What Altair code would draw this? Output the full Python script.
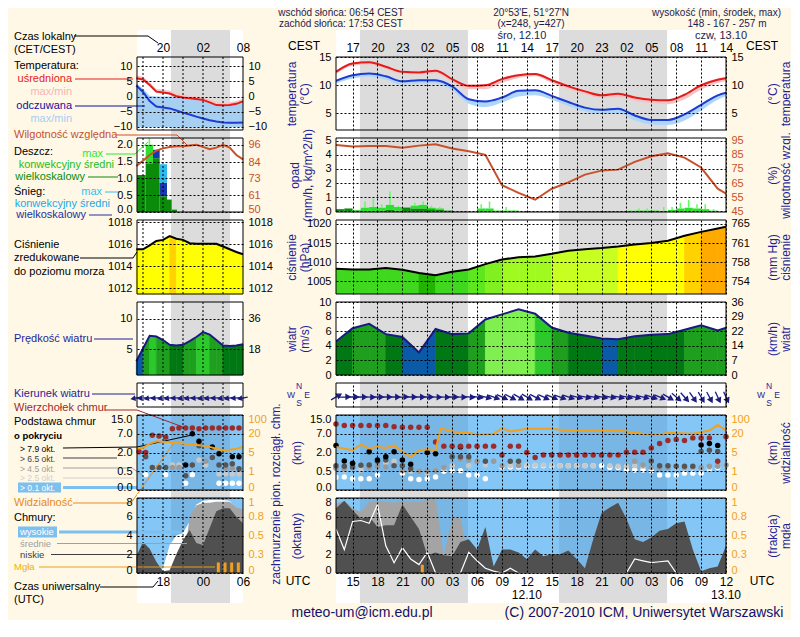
import altair as alt
import pandas as pd

FONT = "Liberation Sans"
NAVY = "#1f1f96"
INK = "#1c1c50"
RED = "#e41c1c"
BLUE = "#1e3cd2"
HUM = "#c8502a"
ORANGE = "#f0a020"
CREAM = "#fff8e6"
NIGHT = "#dcdcdc"
SKY = "#84c6f6"
SKY_N = "#78b6e6"
ARROW_C = "#1c1c80"

# ======================= DATA =======================
# time = hours UTC counted from 11.10 00:00 (13 -> 11.10 13:00 UTC)
T2 = list(range(13, 62, 2))      # 2-hourly main grid
TH = list(range(13, 61))         # hourly main grid
TR = list(range(13, 60))         # hourly precipitation bins
MT = list(range(14, 31))         # hourly grid of the legend mini panels
GRID_R = list(range(15, 61, 3))
GRID_L = [15, 18, 21, 24, 27]
MINI_LAB = [18, 24, 30]
NIGHT_S = [15.88, 39.88]
NIGHT_E = [28.9, 52.9]
MINI_NIGHT_S = [19.2]
MINI_NIGHT_E = [28.05]
DAY_T = [35.4, 59.4]
DAY_TXT = ["śro, 12.10", "czw, 13.10"]
DATE_T = [36, 60]
DATE_TXT = ["12.10", "13.10"]

temp_avg = [12.4, 13.9, 14.1, 13.3, 12.4, 12.3, 12.6, 11.1, 9.9, 10.0, 11.1, 11.8, 12.0,
            10.9, 9.8, 8.9, 8.2, 8.5, 7.8, 7.4, 7.3, 8.3, 10.0, 11.0, 11.4]
temp_avg_lo = [12.0, 13.5, 13.7, 12.9, 12.0, 11.9, 12.1, 10.6, 9.3, 9.3, 10.4, 11.3, 11.6,
               10.4, 9.3, 8.4, 7.7, 7.9, 7.2, 6.8, 6.6, 7.5, 9.2, 10.4, 11.0]
temp_avg_hi = [12.6, 14.1, 14.3, 13.5, 12.6, 12.5, 12.8, 11.3, 10.1, 10.2, 11.3, 12.0, 12.2,
               11.1, 10.0, 9.1, 8.4, 8.7, 8.0, 7.6, 7.5, 8.5, 10.2, 11.2, 11.6]
temp_felt = [10.8, 11.8, 12.1, 11.6, 10.7, 10.9, 10.9, 9.8, 7.5, 7.1, 7.8, 9.0, 9.1,
             8.1, 7.0, 6.0, 5.6, 5.8, 4.6, 3.8, 3.8, 4.8, 6.5, 8.2, 9.0]
temp_felt_lo = [10.3, 11.2, 11.5, 11.0, 10.1, 10.3, 10.3, 9.1, 6.7, 6.1, 6.9, 8.0, 8.2,
                7.4, 6.3, 5.3, 4.9, 5.0, 3.7, 3.0, 2.9, 3.7, 5.5, 7.4, 8.5]
temp_felt_hi = [10.9, 11.9, 12.2, 11.7, 10.8, 11.0, 11.0, 9.9, 7.6, 7.2, 7.9, 9.1, 9.2,
                8.2, 7.1, 6.1, 5.7, 5.9, 4.7, 3.9, 3.9, 4.9, 6.6, 8.3, 9.1]
humidity = [92, 90.8, 91.2, 91.3, 90, 91.5, 92.4, 89.5, 87.5, 85, 63.5, 58, 53.2,
            61, 65.5, 71, 73.8, 74.5, 80, 84, 86, 83, 76, 61, 54]
pressure = [1008.3, 1008.1, 1008.1, 1008.5, 1008.0, 1007.2, 1006.6, 1007.5, 1008.1, 1009.5,
            1010.7, 1011.3, 1011.5, 1012.2, 1013.0, 1013.4, 1013.7, 1014.1, 1014.6, 1015.0,
            1015.6, 1016.9, 1017.9, 1018.8, 1019.7]
wind = [4.6, 6.4, 7.0, 5.6, 5.2, 3.1, 6.3, 5.6, 5.7, 7.6, 8.3, 9.0, 8.4,
        6.5, 5.8, 5.4, 5.0, 4.9, 5.3, 5.5, 5.6, 6.2, 6.8, 6.1, 6.8]

rain_large = [0.15, 0.2, 0.05, 0, 0, 0.05, 0.1, 0.05, 0.25, 0.2, 0.2, 0.15, 0.1, 0.05,
              0, 0, 0, 0, 0, 0, 0, 0, 0, 0, 0, 0, 0, 0, 0, 0, 0, 0, 0, 0, 0, 0, 0,
              0, 0, 0, 0, 0, 0, 0, 0, 0, 0]
rain_conv = [0, 0, 0.05, 0.25, 0.3, 0.2, 0.35, 0.25, 0.05, 0.2, 0.25, 0.1, 0.1, 0,
             0, 0, 0, 0.2, 0.2, 0.05, 0.05, 0.05,
             0, 0, 0, 0, 0, 0, 0, 0, 0, 0, 0, 0, 0,
             0.03, 0.05, 0.05, 0.05, 0.02, 0.1, 0.2, 0.25, 0.2, 0.15, 0.05, 0]
rain_max = [0, 0, 0.1, 0.7, 0.9, 0.5, 1.4, 0.4, 0.3, 0.6, 0.7, 0.4, 0.3, 0.1,
            0, 0, 0, 0.5, 0.7, 0.1, 0.3, 0.1,
            0, 0, 0, 0, 0, 0, 0, 0, 0, 0, 0, 0, 0,
            0.1, 0.2, 0.2, 0.1, 0.3, 0.3, 0.6, 0.8, 0.5, 0.5, 0.15, 0]

wind_dir = [240, 268, 270, 270, 272, 270, 270, 270, 268, 270, 270, 270, 272, 272, 270, 272, 275, 278,
            285, 290, 295, 298, 300, 300, 298, 295, 292, 290, 288, 285, 282, 280,
            280, 280, 282, 282, 285, 285, 288, 292,
            300, 310, 318, 325, 330, 332, 335, 335]

vis_t = [13, 15, 16, 17, 18, 19, 20, 21, 22, 23, 24, 25, 25.6, 27, 29, 30, 32, 33, 34, 36,
         39, 41, 47, 50, 52, 53, 56, 58, 59, 60]
vis_v = [9.5, 6.8, 11.3, 8.2, 9.5, 8.7, 10.8, 5.5, 4.1, 6.8, 7.6, 6.8, 43.9, 29.8, 24.2, 19.2,
         20, 43.9, 29.8, 41, 41, 34, 34, 20, 19.2, 24.2, 20, 34, 58, 34]

base_top = {13: 11.2, 14: 10.5, 15: 10.5, 16: 10.5, 17: 10.5, 18: 10.5, 19: 10.5, 20: 10.0,
            21: 9.8, 22: 9.8, 23: 9.8, 24: 9.8, 25: 4.8, 26: 3.7, 27: 3.7, 28: 3.7, 29: 3.7,
            30: 3.7, 31: 3.7, 32: 3.7, 33: 1.8, 34: 3.7, 35: 3.7, 36: 2.0, 37: 1.6, 38: 1.8,
            39: 1.8, 40: 1.8, 41: 1.8, 42: 1.8, 43: 1.8, 44: 1.8, 45: 1.8, 46: 1.8, 47: 1.8,
            48: 2.1, 49: 2.1, 50: 2.1, 51: 3.2, 52: 4.4, 53: 5.2, 54: 5.5, 55: 5.2, 56: 5.9,
            57: 5.9, 58: 5.9, 59: 1.3, 60: 6.2}
base_black = {13: 3.9, 14: 1.33, 15: 1.15, 17: 2.2, 18: 1.4, 19: 1.66, 20: 2.2, 21: 1.4,
              22: 1.07, 24: 2.0, 25: 1.9, 28: 3.5, 57: 4.0, 58: 4.4, 59: 3.9}
base_dgray = {13: 0.94, 14: 0.9, 15: 0.85, 16: 0.98, 17: 1.0, 18: 1.3, 19: 1.4, 20: 0.95,
              21: 0.94, 22: 0.71, 27: 1.66, 28: 1.66, 29: 1.66, 31: 1.3, 34: 1.3, 35: 1.3,
              51: 1.33, 52: 0.94, 53: 0.94, 54: 0.9, 55: 0.9, 56: 0.9, 57: 2.3, 58: 2.6, 59: 2.3}
base_gray = {13: 0.75, 14: 0.7, 15: 0.8, 17: 0.8, 18: 0.9, 19: 0.85, 21: 0.55, 23: 0.5,
             24: 0.5, 25: 0.55, 26: 0.8, 28: 1.5, 29: 1.4, 30: 1.3, 32: 1.3, 33: 0.95, 35: 0.95,
             49: 1.3, 50: 1.0, 51: 0.8, 52: 0.75, 53: 0.8, 55: 0.8, 56: 0.85, 57: 0.8, 58: 0.9,
             59: 0.9, 60: 1.0}
base_lgray = {14: 0.6, 16: 0.6, 19: 1.2, 20: 1.3, 22: 0.5, 24: 0.45, 26: 0.7, 27: 0.95,
              29: 0.95, 31: 1.0, 33: 0.95, 34: 0.95, 35: 1.0, 36: 1.0, 37: 1.0, 38: 1.0,
              39: 1.0, 40: 0.95, 41: 0.95, 42: 0.95, 43: 0.95, 44: 0.95, 46: 0.95, 47: 0.9,
              48: 0.9, 49: 0.95, 50: 0.9, 54: 0.8, 55: 0.75, 56: 0.8, 58: 0.8, 59: 0.9}
base_white = {13: 0.34, 14: 0.35, 15: 0.3, 16: 0.3, 17: 0.3, 18: 0.4, 21: 0.45, 22: 0.3,
              23: 0.28, 24: 0.3, 25: 0.35, 26: 0.5, 27: 0.55, 28: 0.55, 29: 0.4, 30: 0.4,
              31: 0.3, 33: 0.85, 34: 0.85, 35: 0.85, 36: 0.95, 37: 0.95, 38: 0.95, 39: 0.95,
              40: 0.95, 41: 0.95, 42: 0.95, 43: 0.95, 44: 0.95, 45: 0.95, 46: 0.8, 47: 0.8,
              48: 0.6, 49: 0.6, 50: 0.6, 51: 0.55, 52: 0.4, 53: 0.4, 54: 0.4, 55: 0.45,
              56: 0.45, 57: 0.45, 58: 0.7, 59: 0.8, 60: 1.0}

cloud_low = [6.9, 7.7, 6.7, 5.8, 6.0, 4.9, 5.1, 5.1, 7.3, 6.0, 4.7, 1.9, 2.2, 1.9, 1.8, 3.3,
             3.6, 2.5, 4.9, 0.7, 2.5, 2.5, 2.2, 1.5, 2.5, 1.8, 2.0, 2.0, 2.4, 1.5, 0.5, 3.6,
             6.4, 7.0, 7.5, 5.8, 3.6, 3.3, 3.8, 4.5, 4.7, 5.3, 5.5, 2.5, 0.2, 0.5, 0.7, 2.9]
cloud_mid = [7.4, 7.7, 6.9, 6.5, 7.6, 7.7, 7.6, 7.5, 7.7, 7.6, 7.6, 7.8, 8.0, 1.8, 5.9, 5.9,
             1.5, 0, 0, 0, 0, 0, 0, 0, 0, 0, 0, 0, 0, 0, 0, 0,
             0, 0, 0, 0, 0, 0, 0, 0, 0, 0, 0, 0, 0, 0, 0, 0]
cloud_high = [4.7, 2.5, 5.5, 5.6, 5.3, 7.3, 2.9, 1.1, 2.7, 1.5, 0.9, 2.2, 0, 0, 0, 0,
              2.2, 1.3, 0.5, 0.2, 0, 0.5, 0, 0, 0, 0, 0, 0, 0, 0, 0, 0,
              0, 0, 0, 0, 1.5, 1.3, 1.1, 1.2, 1.3, 0, 0, 0, 0, 0, 0, 0]
fog_t = [23.4]
fog_v = [0.11]

# ---- legend mini panels (example data) ----
mini_temp = [6.0, 5.6, 3.8, 1.6, 1.3, 1.0, 0.1, -0.3, -0.6, -0.8, -1.1, -1.9, -2.8, -2.9, -2.8, -2.4, -1.6]
mini_temp_lo = [5.7, 5.3, 3.5, 1.3, 1.0, 0.7, -0.2, -0.6, -0.9, -1.1, -1.4, -2.2, -3.1, -3.2, -3.1, -2.7, -1.9]
mini_temp_hi = [6.9, 6.5, 4.7, 2.5, 2.2, 1.9, 1.0, 0.6, 0.3, 0.1, -0.2, -1.0, -1.9, -2.0, -1.9, -1.5, -0.7]
mini_felt = [3.6, 1.5, -1.5, -3.3, -3.6, -3.9, -4.6, -5.3, -5.9, -6.6, -7.2, -7.8, -8.2, -8.5, -8.6, -8.6, -8.5]
mini_felt_hi = [4.4, 2.6, 0.3, 0.0, 0.0, 0.0, 0.0, 0.0, -0.2, -0.5, -0.8, -1.5, -2.5, -2.8, -2.8, -2.3, -1.5]
mini_felt_lo = [-10, -10, -10, -10, -10, -10, -10, -10, -10, -10, -10, -10, -10, -10, -10, -10, -10]
mini_hum = [81.5, 85, 89, 92, 93.5, 94.5, 95, 95, 95.5, 96, 94.5, 93, 94, 96, 94, 89, 86]
mini_bar_t0 = [14.1, 15.4, 16.5, 17.5, 18.6, 19.3]
mini_bar_t1 = [15.4, 16.5, 17.5, 18.6, 19.3, 20.1]
mini_rain_large = [1.1, 1.45, 1.6, 0.47, 0.37, 0.07]
mini_rain_conv = [0, 0.55, 0, 0, 0, 0]
mini_snow_large = [0, 0, 0.25, 0.4, 0, 0]
mini_snow_conv = [0, 0, 0, 0.55, 0, 0]
mini_rain_max = [0, 2.2, 0, 0, 0, 0]
mini_press = [1015.55, 1015.55, 1015.9, 1016.3, 1016.4, 1016.75, 1016.5, 1016.4, 1016.1, 1016.05,
              1016.05, 1016.05, 1016.05, 1015.8, 1015.55, 1015.3, 1015.1]
mini_wind = [3.0, 5.1, 7.2, 7.1, 6.5, 5.7, 5.6, 5.7, 6.3, 7.0, 7.8, 7.4, 6.5, 5.6, 5.5, 5.6, 5.8]
mini_dir = [80, 85, 80, 85, 80, 80, 85, 80, 80, 85, 80, 80, 85, 80, 80, 85, 80]
mini_vis = [8.0, 8.7, 12, 14, 13.6, 13.4, 12.8, 12.2, 11.5, 11, 10.5, 9.5, 8.0, 6.8, 7.2, 8.0, 9.5]
mb_top = {14.4: 2.2, 15.4: 2.0, 16.4: 6.6, 17.4: 6.4, 18.4: 6.1, 19.4: 9.1, 20.4: 9.5, 21.4: 9.5,
          22.4: 9.5, 23.4: 9.1, 24.4: 9.5, 25.4: 9.5, 26.4: 9.5, 27.4: 9.5, 28.4: 9.5, 29.4: 9.5}
mb_black = {21.4: 1.0, 22.4: 7.0, 23.4: 5.0, 25.4: 3.5, 26.4: 1.9, 28.4: 1.66, 29.4: 1.66}
mb_dgray = {15.4: 1.66, 16.4: 0.81, 17.4: 0.81, 18.4: 0.81, 21.4: 0.38, 22.4: 1.0, 23.4: 3.8,
            25.4: 1.6, 26.4: 1.0, 27.4: 1.0, 28.4: 1.1, 29.4: 0.7}
mb_gray = {19.4: 0.81, 20.4: 0.81, 24.4: 1.3, 27.4: 0.75, 28.4: 0.75}
mb_lgray = {19.4: 1.0, 20.4: 1.0, 23.4: 1.4, 24.4: 1.0, 26.4: 0.43, 27.4: 0.43, 28.4: 0.43, 29.4: 0.43}
mb_white = {15.4: 0.41, 18.4: 0.41, 21.4: 0.18, 22.4: 0.41, 26.4: 0.18, 27.4: 0.18, 28.4: 0.18, 29.4: 0.18}
mini_low = [1.8, 3.3, 2.6, 1.2, 0.2, 0.3, 2.0, 3.5, 4.6, 3.2, 3.0, 4.8, 6.6, 6.9, 6.9, 6.0, 5.3]
mini_mid = [0, 0, 0, 0, 0, 0, 1.0, 0.5, 6.0, 7.2, 7.5, 7.5, 7.6, 7.6, 7.6, 7.0, 6.8]
mini_high = [0, 0, 0, 0, 0.5, 3.0, 4.0, 4.3, 5.5, 7.3, 7.7, 7.8, 7.8, 7.8, 7.7, 6.8, 6.2]
mini_fog_t = [26.3, 27.3, 28.3, 29.3]
mini_fog = [0.14, 0.14, 0.14, 0.14]

# ======================= LAYOUT =======================
W, WL = 390, 106
HT, HR, HP, HW, HD, HB, HC = 73, 74, 74, 73, 24, 75, 75
XR = alt.Scale(domain=[13, 60], nice=False, zero=False)
XL = alt.Scale(domain=[14.1, 30], nice=False, zero=False)
EXPR_UTC = "(datum.value % 24 < 10 ? '0' : '') + (datum.value % 24)"
EXPR_LOC = "((datum.value + 2) % 24 < 10 ? '0' : '') + ((datum.value + 2) % 24)"
ONE = pd.DataFrame({"k": [0]})
ARROW = "M-1,0L0.4,0M1,0L0.3,-0.4L0.3,0.4Z"

P_TH = alt.Scale(type="threshold",
                 domain=[1007.0, 1008.6, 1009.6, 1010.8, 1012.0, 1014.3, 1016.6, 1018.2],
                 range=["#22b400", "#40d81e", "#5ee61e", "#80f020", "#a0fa20", "#c8ff20",
                        "#ffff00", "#ffd200", "#ffaa00"])
W_TH = alt.Scale(type="threshold", domain=[3.6, 5.0, 6.0, 7.0, 7.8],
                 range=["#0a96ff", "#0a5aa8", "#007814", "#1ea01e", "#2cc82c", "#80f050"])
RAIN_SC = alt.Scale(domain=["rl", "rc", "sl", "sc"], range=["#0a8c0a", "#2ee02e", "#1838b0", "#30b8f0"])
DOT_SC = alt.Scale(domain=["white", "lgray", "gray", "dgray", "black", "top"],
                   range=["#ffffff", "#c8c8c8", "#9a9a9a", "#555555", "#000000", "#9b2c2c"])


def xax(vals, orient="bottom", labels=False, expr=None):
    kw = dict(values=vals, orient=orient, grid=True, gridDash=[2, 2], gridColor="black",
              gridOpacity=1, gridWidth=1, ticks=False, domain=False, title=None, zindex=1,
              labels=labels, labelFont=FONT, labelFontSize=12, labelColor="black",
              labelPadding=3, labelFlush=False, labelOverlap=False)
    if expr:
        kw["labelExpr"] = expr
    return alt.Axis(**kw)


def lab_ax(orient, expr):
    return alt.Axis(values=MINI_LAB, orient=orient, grid=False, ticks=False, domain=False, title=None,
                    zindex=1, labelFont=FONT, labelFontSize=12, labelColor="black", labelPadding=3,
                    labelFlush=False, labelOverlap=False, labelExpr=expr)


def yax(vals, H, orient="left", grid=True, color="black", title=None, tx=0, fmt=None, expr=None,
        flush=False):
    kw = dict(values=vals, orient=orient, grid=grid, ticks=False, domain=False, zindex=1,
              labelFont=FONT, labelFontSize=11, labelColor=color, labelPadding=5,
              labelOverlap=False, labelFlush=flush)
    if flush:
        kw["labelFlushOffset"] = 2
    if grid:
        kw.update(gridDash=[2, 2], gridColor="black", gridOpacity=1, gridWidth=1)
    if fmt:
        kw["format"] = fmt
    if expr:
        kw["labelExpr"] = expr
    if title is None:
        kw["title"] = None
    else:
        kw.update(title=title, titleFont=FONT, titleFontSize=12, titleFontWeight="normal",
                  titleColor=NAVY, titleAngle=270, titleX=tx, titleY=H / 2,
                  titleAlign="center", titleBaseline="middle", titleLineHeight=13)
    return alt.Axis(**kw)


def txt(s, x, y, color="black", size=11, align="left", weight="normal", angle=0):
    m = dict(text=s, align=align, baseline="middle", font=FONT, fontSize=size, color=color,
             fontWeight=weight)
    if angle:
        m["angle"] = angle
    return alt.Chart(ONE).mark_text(**m).encode(x=alt.value(x), y=alt.value(y))


def seg(x1, y1, x2, y2, color, w=1):
    return alt.Chart(ONE).mark_rule(color=color, strokeWidth=w).encode(
        x=alt.value(x1), y=alt.value(y1), x2=alt.value(x2), y2=alt.value(y2))


def poly(pts, color, w=1):
    return [seg(pts[i][0], pts[i][1], pts[i + 1][0], pts[i + 1][1], color, w) for i in range(len(pts) - 1)]


def box(x1, y1, x2, y2, color, opacity=1):
    return alt.Chart(ONE).mark_rect(color=color, opacity=opacity).encode(
        x=alt.value(x1), x2=alt.value(x2), y=alt.value(y1), y2=alt.value(y2))


def frame(w, h):
    return alt.Chart(ONE).mark_rect(filled=False, stroke="black", strokeWidth=1).encode(
        x=alt.value(0), x2=alt.value(w), y=alt.value(0), y2=alt.value(h))


def bands(xs, dom, ax, ns, ne, H, top, bot, day, night):
    full = pd.DataFrame({"s": [dom[0]], "e": [dom[1]]})
    nts = pd.DataFrame({"s": ns, "e": ne})
    a = alt.Chart(full).mark_rect(color=day).encode(
        x=alt.X("s:Q", scale=xs, axis=ax), x2="e:Q", y=alt.value(top), y2=alt.value(H + bot))
    b = alt.Chart(nts).mark_rect(color=night).encode(
        x=alt.X("s:Q", scale=xs, axis=ax), x2="e:Q", y=alt.value(top), y2=alt.value(H + bot))
    return [a, b]


def seg_df(ts, vs):
    rows = []
    for i in range(len(ts) - 1):
        m = (vs[i] + vs[i + 1]) / 2
        rows.append(dict(seg=i, t=ts[i], v=vs[i], m=m))
        rows.append(dict(seg=i, t=ts[i + 1], v=vs[i + 1], m=m))
    return pd.DataFrame(rows)


def dots_df(groups):
    rows = []
    for cat, d in groups:
        for t, v in d.items():
            rows.append(dict(t=t, v=v, cat=cat))
    return pd.DataFrame(rows)


def stack_df(t0, t1, parts):
    rows = []
    for i in range(len(t0)):
        base = 0.0
        for cat, arr in parts:
            rows.append(dict(t0=t0[i], t1=t1[i], v0=base, v1=base + arr[i], cat=cat))
            base += arr[i]
    return pd.DataFrame(rows)


def panel(left, right, w, h):
    if right:
        ch = alt.layer(alt.layer(*left), alt.layer(*right)).resolve_scale(y="independent")
    else:
        ch = alt.layer(*left)
    return ch.properties(width=w, height=h)


# ======================= RIGHT (main) COLUMN =======================
RD = [13, 60]
XA = xax(GRID_R)
XA_T = xax(GRID_R, "top", True, EXPR_LOC)
XA_C = xax(GRID_R, "bottom", True, EXPR_UTC)

# --- temperature ---
dfT = pd.DataFrame(dict(t=T2, avg=temp_avg, alo=temp_avg_lo, ahi=temp_avg_hi,
                        felt=temp_felt, flo=temp_felt_lo, fhi=temp_felt_hi))
yT = alt.Scale(domain=[2, 15.05], nice=False, zero=False)
yaT = yax([5, 10, 15], HT, title=["temperatura", "(°C)"], tx=-45)
yaT_r = yax([5, 10, 15], HT, orient="right", grid=False, title=["(°C)", "temperatura"], tx=46)
xT = alt.X("t:Q", scale=XR, axis=XA_T)
T_left = bands(XR, RD, XA_T, NIGHT_S, NIGHT_E, HT, -27, 4, "white", NIGHT) + [
    alt.Chart(dfT).mark_area(color="#aed6fa", clip=True, interpolate="monotone").encode(
        x=xT, y=alt.Y("flo:Q", scale=yT, axis=yaT), y2="fhi:Q"),
    alt.Chart(dfT).mark_area(color="#f7c4c4", clip=True, interpolate="monotone").encode(
        x=xT, y=alt.Y("alo:Q", scale=yT, axis=yaT), y2="ahi:Q"),
    alt.Chart(dfT).mark_line(color=BLUE, strokeWidth=2, clip=True, interpolate="monotone").encode(
        x=xT, y=alt.Y("felt:Q", scale=yT, axis=yaT)),
    alt.Chart(dfT).mark_line(color=RED, strokeWidth=2, clip=True, interpolate="monotone").encode(
        x=xT, y=alt.Y("avg:Q", scale=yT, axis=yaT)),
    alt.Chart(pd.DataFrame({"t": DAY_T, "s": DAY_TXT})).mark_text(
        font=FONT, fontSize=11, color=INK).encode(x=xT, y=alt.value(-21), text="s:N"),
    txt("wschód słońca: 06:54 CEST", 5, -44, INK, 10, "center"),
    txt("zachód słońca: 17:53 CEST", 5, -33, INK, 10, "center"),
    txt("20°53'E, 51°27'N", 195, -44, INK, 10, "center"),
    txt("(x=248, y=427)", 195, -33, INK, 10, "center"),
    txt("wysokość (min, środek, max)", 445, -44, INK, 10, "right"),
    txt("148 - 167 - 257 m", 391, -33, INK, 10, "center"),
    txt("CEST", -32, -11, "black", 12, "center"),
    txt("CEST", W + 36, -11, "black", 12, "center"),
]
T_right = [
    alt.Chart(dfT).mark_line(opacity=0).encode(x=xT, y=alt.Y("avg:Q", scale=yT, axis=yaT_r)),
    frame(W, HT),
]
pT = panel(T_left, T_right, W, HT)

# --- precipitation / humidity ---
xR = alt.X("t:Q", scale=XR, axis=XA)
yR = alt.Scale(domain=[-0.05, 5.19], nice=False, zero=False)
yH = alt.Scale(domain=[44.5, 96.9], nice=False, zero=False)
yaR = yax([0, 1, 2, 3, 4, 5], HR, title=["opad", "(mm/h, kg/m^2/h)"], tx=-42)
yaR_r = yax([45, 55, 65, 75, 85, 95], HR, orient="right", grid=False, color=HUM,
            title=["(%)", "wilgotność wzgl."], tx=46)
dfRain = stack_df(TR, [t + 1 for t in TR], [("rl", rain_large), ("rc", rain_conv)])
dfMax = pd.DataFrame(dict(tm=[t + 0.5 for t in TR], mx=rain_max,
                          top=[a + b for a, b in zip(rain_large, rain_conv)]))
dfHum = pd.DataFrame(dict(t=T2, h=humidity))
R_left = bands(XR, RD, XA, NIGHT_S, NIGHT_E, HR, -4, 4, "white", NIGHT) + [
    alt.Chart(dfRain).mark_rect().encode(
        x=alt.X("t0:Q", scale=XR, axis=XA), x2="t1:Q",
        y=alt.Y("v1:Q", scale=yR, axis=yaR), y2="v0:Q",
        color=alt.Color("cat:N", scale=RAIN_SC, legend=None)),
    alt.Chart(dfMax).transform_filter("datum.mx > datum.top").mark_rule(
        color="#5cff5c", strokeWidth=1.5).encode(
        x=alt.X("tm:Q", scale=XR, axis=XA), y=alt.Y("mx:Q", scale=yR, axis=yaR), y2="top:Q"),
]
R_right = [
    alt.Chart(dfHum).mark_line(color=HUM, strokeWidth=2, clip=True).encode(
        x=xR, y=alt.Y("h:Q", scale=yH, axis=yaR_r)),
    frame(W, HR),
]
pR = panel(R_left, R_right, W, HR)

# --- pressure ---
yP = alt.Scale(domain=[1001.7, 1021], nice=False, zero=False)
yaP = yax([1005, 1010, 1015, 1020], HP, fmt="d", title=["ciśnienie", "(hPa)"], tx=-45)
yaP_r = yax([1005, 1010, 1015, 1020], HP, orient="right", grid=False,
            expr="format(datum.value * 0.750062, '.0f')", title=["(mm Hg)", "ciśnienie"], tx=46)
dfP = pd.DataFrame(dict(t=T2, p=pressure))
P_left = bands(XR, RD, XA, NIGHT_S, NIGHT_E, HP, -4, 4, "white", NIGHT) + [
    alt.Chart(seg_df(T2, pressure)).mark_area(clip=True, strokeWidth=0.6).encode(
        x=xR, y=alt.Y("v:Q", scale=yP, axis=yaP), y2=alt.datum(1001.7),
        color=alt.Color("m:Q", scale=P_TH, legend=None),
        stroke=alt.Stroke("m:Q", scale=P_TH, legend=None), detail="seg:N"),
    alt.Chart(dfP).mark_line(color="black", strokeWidth=2, clip=True).encode(
        x=xR, y=alt.Y("p:Q", scale=yP, axis=yaP)),
]
P_right = [
    alt.Chart(dfP).mark_line(opacity=0).encode(x=xR, y=alt.Y("p:Q", scale=yP, axis=yaP_r)),
    frame(W, HP),
]
pP = panel(P_left, P_right, W, HP)

# --- wind speed ---
yW = alt.Scale(domain=[0, 10], nice=False)
yaW = yax([0, 2, 4, 6, 8, 10], HW, title=["wiatr", "(m/s)"], tx=-45)
yaW_r = yax([0, 2, 4, 6, 8, 10], HW, orient="right", grid=False,
            expr="format(datum.value * 3.6, '.0f')", title=["(km/h)", "wiatr"], tx=46)
dfW = pd.DataFrame(dict(t=T2, w=wind))
W_left = bands(XR, RD, XA, NIGHT_S, NIGHT_E, HW, -4, 4, "white", NIGHT) + [
    alt.Chart(seg_df(T2, wind)).mark_area(clip=True, strokeWidth=0.6).encode(
        x=xR, y=alt.Y("v:Q", scale=yW, axis=yaW), y2=alt.datum(0),
        color=alt.Color("m:Q", scale=W_TH, legend=None),
        stroke=alt.Stroke("m:Q", scale=W_TH, legend=None), detail="seg:N"),
    alt.Chart(dfW).mark_line(color="#1a1a80", strokeWidth=2, clip=True).encode(
        x=xR, y=alt.Y("w:Q", scale=yW, axis=yaW)),
]
W_right = [
    alt.Chart(dfW).mark_line(opacity=0).encode(x=xR, y=alt.Y("w:Q", scale=yW, axis=yaW_r)),
    frame(W, HW),
]
pW = panel(W_left, W_right, W, HW)

# --- wind direction ---
dfD = pd.DataFrame(dict(t=TH, d=wind_dir))
dfD["ang"] = (dfD["d"] + 90) % 360


def compass(cx, cy):
    return [txt("N", cx, cy - 9, NAVY, 8.5, "center"), txt("W", cx - 8, cy, NAVY, 8.5, "center"),
            txt("E", cx + 8, cy, NAVY, 8.5, "center"), txt("S", cx, cy + 8, NAVY, 8.5, "center")]


D_left = bands(XR, RD, XA, NIGHT_S, NIGHT_E, HD, -4, 4, "white", NIGHT) + [
    alt.Chart(dfD).mark_point(shape=ARROW, filled=True, fill=ARROW_C, stroke=ARROW_C,
                              strokeWidth=1.3, size=130, opacity=1).encode(
        x=xR, y=alt.value(HD / 2 + 2), angle=alt.Angle("ang:Q", scale=None)),
    frame(W, HD),
] + compass(-37, 12) + compass(W + 43, 12)
pD = panel(D_left, None, W, HD)

# --- cloud base / visibility ---
B_DOM = [0, 0.5, 2, 7, 15]
V_DOM = [0, 1, 5, 20, 100]


def pw_range(h):
    return [h, h * 0.75, h * 0.5, h * 0.25, 0]


yB = alt.Scale(domain=B_DOM, range=pw_range(HB))
yV = alt.Scale(domain=V_DOM, range=pw_range(HB))
yaB = yax(B_DOM, HB, fmt=".1f", title="(km)", tx=-40, flush=True)
yaB_r = yax(V_DOM, HB, orient="right", grid=False, color=ORANGE, fmt="d",
            title=["(km)", "widzialność"], tx=46, flush=True)
dfB = dots_df([("white", base_white), ("lgray", base_lgray), ("gray", base_gray),
               ("dgray", base_dgray), ("black", base_black), ("top", base_top)])
dfV = pd.DataFrame(dict(t=vis_t, v=vis_v))
B_left = bands(XR, RD, XA, NIGHT_S, NIGHT_E, HB, -4, 4, "white", NIGHT) + \
    bands(XR, RD, XA, NIGHT_S, NIGHT_E, HB, 0, 0, SKY, SKY_N) + [
    alt.Chart(dfB).mark_circle(size=30, opacity=1).encode(
        x=xR, y=alt.Y("v:Q", scale=yB, axis=yaB),
        color=alt.Color("cat:N", scale=DOT_SC, legend=None)),
    txt("zachmurzenie pion. rozciągł. chm.", -60, HB + 4, NAVY, 12, "center", angle=270),
]
B_right = [
    alt.Chart(dfV).mark_line(color=ORANGE, strokeWidth=2, clip=True).encode(
        x=xR, y=alt.Y("v:Q", scale=yV, axis=yaB_r)),
    frame(W, HB),
]
pB = panel(B_left, B_right, W, HB)

# --- cloud cover / fog ---
yC = alt.Scale(domain=[0, 8], nice=False)
yF = alt.Scale(domain=[0, 1], nice=False)
yaC = yax([0, 2, 4, 6, 8], HC, title="(oktanty)", tx=-40, flush=True)
yaC_r = yax([0, 0.25, 0.5, 0.75, 1], HC, orient="right", grid=False, color=ORANGE, fmt="~g",
            title=["(frakcja)", "mgła"], tx=46, flush=True)
xC = alt.X("t:Q", scale=XR, axis=XA_C)
dfC = pd.DataFrame(dict(t=TH, low=cloud_low, mid=cloud_mid, high=cloud_high))
dfF = pd.DataFrame(dict(t=fog_t, f=fog_v))
C_left = bands(XR, RD, XA_C, NIGHT_S, NIGHT_E, HC, -4, 30, "white", NIGHT) + \
    bands(XR, RD, XA_C, NIGHT_S, NIGHT_E, HC, 0, 0, SKY, SKY_N) + [
    alt.Chart(dfC).mark_area(color="#a4a4a4", clip=True).encode(
        x=xC, y=alt.Y("mid:Q", scale=yC, axis=yaC)),
    alt.Chart(dfC).mark_area(color="#505050", clip=True).encode(
        x=xC, y=alt.Y("low:Q", scale=yC, axis=yaC)),
    alt.Chart(dfC).mark_line(color="white", strokeWidth=1.2, clip=True).encode(
        x=xC, y=alt.Y("high:Q", scale=yC, axis=yaC)),
    alt.Chart(pd.DataFrame({"t": DATE_T, "s": DATE_TXT})).mark_text(
        font=FONT, fontSize=12, color="black").encode(x=xC, y=alt.value(HC + 22), text="s:N"),
    txt("UTC", -38, HC + 8, "black", 12, "center"),
    txt("UTC", W + 36, HC + 8, "black", 12, "center"),
    txt("meteo-um@icm.edu.pl", 26, HC + 40, "#101070", 14, "center"),
    txt("(C) 2007-2010 ICM, Uniwersytet Warszawski", 308, HC + 40, "#101070", 14, "center"),
]
C_right = [
    alt.Chart(dfF).mark_rule(color=ORANGE, strokeWidth=3).encode(
        x=xC, y=alt.Y("f:Q", scale=yF, axis=yaC_r), y2=alt.datum(0)),
    frame(W, HC),
]
pC = panel(C_left, C_right, W, HC)

right_col = alt.vconcat(pT, pR, pP, pW, pD, pB, pC, spacing=8, bounds="flush").resolve_scale(
    color="independent", stroke="independent")

# ======================= LEFT (legend) COLUMN =======================
LD = [14.1, 30]
AXL_T = lab_ax("top", EXPR_LOC)
AXL_C = lab_ax("bottom", EXPR_UTC)


def vgrid(ax, H):
    return alt.Chart(pd.DataFrame({"g": GRID_L})).mark_rule(
        color="black", strokeDash=[2, 2], strokeWidth=1).encode(
        x=alt.X("g:Q", scale=XL, axis=ax), y=alt.value(0), y2=alt.value(H))


# --- mini temperature ---
dmT = pd.DataFrame(dict(t=MT, avg=mini_temp, alo=mini_temp_lo, ahi=mini_temp_hi,
                        felt=mini_felt, flo=mini_felt_lo, fhi=mini_felt_hi))
ymT = alt.Scale(domain=[-11, 13], nice=False, zero=False)
yamT = yax([-10, -5, 0, 5, 10], HT)
yamT_r = yax([-10, -5, 0, 5, 10], HT, orient="right", grid=False)
xmT = alt.X("t:Q", scale=XL, axis=AXL_T)
mT_left = bands(XL, LD, AXL_T, MINI_NIGHT_S, MINI_NIGHT_E, HT, -27, 4, "white", NIGHT) + [
    alt.Chart(dmT).mark_area(color="#a6cff2").encode(x=xmT, y=alt.Y("flo:Q", scale=ymT, axis=yamT), y2="fhi:Q"),
    alt.Chart(dmT).mark_area(color="#f7c4c4").encode(x=xmT, y=alt.Y("alo:Q", scale=ymT, axis=yamT), y2="ahi:Q"),
    alt.Chart(dmT).mark_line(color=BLUE, strokeWidth=2).encode(x=xmT, y=alt.Y("felt:Q", scale=ymT, axis=yamT)),
    alt.Chart(dmT).mark_line(color=RED, strokeWidth=2).encode(x=xmT, y=alt.Y("avg:Q", scale=ymT, axis=yamT)),
    vgrid(AXL_T, HT),
    box(-129, -49, -128, -48, "white", 0),
    txt("Czas lokalny", -123, -20),
    txt("(CET/CEST)", -123, -7),
    txt("Temperatura:", -123, 9),
    txt("uśredniona", -65, 22, RED, align="right"),
    txt("max/min", -65, 35, "#f5b4b4", align="right"),
    txt("odczuwana", -65, 49, "#1010a0", align="right"),
    txt("max/min", -65, 62, "#a6cdf2", align="right"),
] + poly([(-63, -21), (11, -21), (21, -14)], "black") + poly([(-62, 22), (-4, 22)], RED) + \
    poly([(-62, 49), (8, 49)], "#1010a0")
mT_right = [
    alt.Chart(dmT).mark_line(opacity=0).encode(x=xmT, y=alt.Y("avg:Q", scale=ymT, axis=yamT_r)),
    frame(WL, HT),
]
mT = panel(mT_left, mT_right, WL, HT)

# --- mini rain ---
ymR = alt.Scale(domain=[0, 2.2], nice=False)
ymH = alt.Scale(domain=[50, 100.6], nice=False, zero=False)
yamR = yax([0, 0.5, 1, 1.5, 2], HR, fmt=".1f", flush=True)
yamR_r = yax([50, 61, 73, 84, 96], HR, orient="right", grid=False, color=HUM, flush=True)
dmRain = stack_df(mini_bar_t0, mini_bar_t1, [("rl", mini_rain_large), ("rc", mini_rain_conv),
                                             ("sl", mini_snow_large), ("sc", mini_snow_conv)])
dmMax = pd.DataFrame(dict(tm=[(a + b) / 2 for a, b in zip(mini_bar_t0, mini_bar_t1)], mx=mini_rain_max,
                          top=[a + b for a, b in zip(mini_rain_large, mini_rain_conv)]))
dmH = pd.DataFrame(dict(t=MT, h=mini_hum))
mR_left = bands(XL, LD, None, MINI_NIGHT_S, MINI_NIGHT_E, HR, -4, 4, "white", NIGHT) + [
    alt.Chart(dmRain).mark_rect().encode(
        x=alt.X("t0:Q", scale=XL, axis=None), x2="t1:Q",
        y=alt.Y("v1:Q", scale=ymR, axis=yamR), y2="v0:Q",
        color=alt.Color("cat:N", scale=RAIN_SC, legend=None)),
    alt.Chart(dmMax).transform_filter("datum.mx > datum.top").mark_rule(
        color="#5cff5c", strokeWidth=1.5).encode(
        x=alt.X("tm:Q", scale=XL, axis=None), y=alt.Y("mx:Q", scale=ymR, axis=yamR), y2="top:Q"),
    vgrid(None, HR),
    txt("Wilgotność względna", -123, -3, HUM),
    txt("Deszcz:", -123, 14),
    txt("max", -34, 16, "#2ee82e", align="right"),
    txt("konwekcyjny średni", -23, 27, "#20c020", align="right"),
    txt("wielkoskalowy", -52, 39, "#0a8c0a", align="right"),
    txt("Śnieg:", -123, 54),
    txt("max", -35, 54, "#30c0f0", align="right"),
    txt("konwekcyjny średni", -27, 66, "#20a8e8", align="right"),
    txt("wielkoskalowy", -51, 77, "#2030a0", align="right"),
] + poly([(-21, -3), (40, -3), (50, 7)], HUM) + poly([(-31, 16), (-2, 16), (11, 4)], "#2ee82e") + \
    poly([(-49, 39), (-19, 39)], "#0a8c0a") + poly([(-32, 54), (-17, 54)], "#30c0f0") + \
    poly([(-48, 77), (-25, 77)], "#2030a0")
mR_right = [
    alt.Chart(dmH).mark_line(color=HUM, strokeWidth=2).encode(
        x=alt.X("t:Q", scale=XL, axis=None), y=alt.Y("h:Q", scale=ymH, axis=yamR_r)),
    frame(WL, HR),
]
mR = panel(mR_left, mR_right, WL, HR)

# --- mini pressure ---
ymP = alt.Scale(domain=[1011.5, 1018.2], nice=False, zero=False)
yamP = yax([1012, 1014, 1016, 1018], HP, fmt="d")
yamP_r = yax([1012, 1014, 1016, 1018], HP, orient="right", grid=False, fmt="d")
xm = alt.X("t:Q", scale=XL, axis=None)
dmP = pd.DataFrame(dict(t=MT, p=mini_press))
mP_left = bands(XL, LD, None, MINI_NIGHT_S, MINI_NIGHT_E, HP, -4, 4, "white", NIGHT) + [
    alt.Chart(seg_df(MT, mini_press)).mark_area(strokeWidth=0.6).encode(
        x=xm, y=alt.Y("v:Q", scale=ymP, axis=yamP), y2=alt.datum(1011.5),
        color=alt.Color("m:Q", scale=P_TH, legend=None),
        stroke=alt.Stroke("m:Q", scale=P_TH, legend=None), detail="seg:N"),
    alt.Chart(dmP).mark_line(color="black", strokeWidth=2).encode(x=xm, y=alt.Y("p:Q", scale=ymP, axis=yamP)),
    vgrid(None, HP),
    txt("Ciśnienie", -123, 25),
    txt("zredukowane", -123, 38),
    txt("do poziomu morza", -123, 52),
] + poly([(-57, 38), (-4, 38), (0, 32)], "black")
mP_right = [
    alt.Chart(dmP).mark_line(opacity=0).encode(x=xm, y=alt.Y("p:Q", scale=ymP, axis=yamP_r)),
    frame(WL, HP),
]
mP = panel(mP_left, mP_right, WL, HP)

# --- mini wind ---
ymW = alt.Scale(domain=[0.7, 12.8], nice=False, zero=False)
yamW = yax([5, 10], HW)
yamW_r = yax([5, 10], HW, orient="right", grid=False, expr="format(datum.value * 3.6, '.0f')")
dmW = pd.DataFrame(dict(t=MT, w=mini_wind))
mW_left = bands(XL, LD, None, MINI_NIGHT_S, MINI_NIGHT_E, HW, -4, 4, "white", NIGHT) + [
    alt.Chart(seg_df(MT, mini_wind)).mark_area(strokeWidth=0.6).encode(
        x=xm, y=alt.Y("v:Q", scale=ymW, axis=yamW), y2=alt.datum(0.7),
        color=alt.Color("m:Q", scale=W_TH, legend=None),
        stroke=alt.Stroke("m:Q", scale=W_TH, legend=None), detail="seg:N"),
    alt.Chart(dmW).mark_line(color="#1a1a80", strokeWidth=2).encode(x=xm, y=alt.Y("w:Q", scale=ymW, axis=yamW)),
    vgrid(None, HW),
    txt("Prędkość wiatru", -123, 37, NAVY),
] + poly([(-43, 37), (-4, 37)], NAVY)
mW_right = [
    alt.Chart(dmW).mark_line(opacity=0).encode(x=xm, y=alt.Y("w:Q", scale=ymW, axis=yamW_r)),
    frame(WL, HW),
]
mW = panel(mW_left, mW_right, WL, HW)

# --- mini wind direction ---
dmD = pd.DataFrame(dict(t=MT, d=mini_dir))
dmD["ang"] = (dmD["d"] + 90) % 360
mD_left = bands(XL, LD, None, MINI_NIGHT_S, MINI_NIGHT_E, HD, -4, 4, "white", NIGHT) + [
    alt.Chart(dmD).mark_point(shape=ARROW, filled=True, fill=ARROW_C, stroke=ARROW_C,
                              strokeWidth=1.2, size=90, opacity=1).encode(
        x=xm, y=alt.value(HD / 2 + 3), angle=alt.Angle("ang:Q", scale=None)),
    vgrid(None, HD),
    frame(WL, HD),
    txt("Kierunek wiatru", -123, 11, NAVY),
] + poly([(-45, 11), (-2, 11)], NAVY)
mD = panel(mD_left, None, WL, HD)

# --- mini cloud base ---
yamB = yax(B_DOM, HB, fmt=".1f", flush=True)
yamB_r = yax(V_DOM, HB, orient="right", grid=False, color=ORANGE, fmt="d", flush=True)
dmB = dots_df([("white", mb_white), ("lgray", mb_lgray), ("gray", mb_gray),
               ("dgray", mb_dgray), ("black", mb_black), ("top", mb_top)])
dmV = pd.DataFrame(dict(t=MT, v=mini_vis))
OK = 8.5
mB_left = bands(XL, LD, None, MINI_NIGHT_S, MINI_NIGHT_E, HB, -4, 4, "white", NIGHT) + \
    bands(XL, LD, None, MINI_NIGHT_S, MINI_NIGHT_E, HB, 0, 0, SKY, SKY_N) + [
    alt.Chart(dmB).mark_circle(size=30, opacity=1).encode(
        x=xm, y=alt.Y("v:Q", scale=yB, axis=yamB),
        color=alt.Color("cat:N", scale=DOT_SC, legend=None)),
    vgrid(None, HB),
    txt("Wierzchołek chmur", -123, -7, "#a02828"),
    txt("Podstawa chmur", -123, 7),
    txt("o pokryciu", -123, 21, size=9.5, weight="bold"),
    txt("> 7.9 okt.", -117, 34, size=OK),
    txt("> 6.5 okt.", -117, 44, "#404040", size=OK),
    txt("> 4.5 okt.", -117, 53.5, "#a0a0a0", size=OK),
    txt("> 2.5 okt.", -117, 63, "#d0d0d0", size=OK),
    box(-119, 67.5, -76, 77.5, "#7cc0f0"),
    txt("> 0.1 okt.", -117, 72.5, "white", size=OK),
    txt("Widzialność", -123, 88, "#e88a20"),
] + poly([(-32, -5), (0, -5), (46, 12)], "#a02828") + poly([(-74, 33), (0, 32), (55, 20)], "black") + \
    poly([(-74, 43), (-20, 43)], "#404040") + poly([(-74, 53), (-5, 53), (5, 60)], "#a0a0a0") + \
    poly([(-74, 63), (-3, 63)], "#d0d0d0") + poly([(-74, 72.5), (0, 72.5)], "#7cc0f0", 3) + \
    poly([(-64, 88), (-6, 88), (36, 29)], "#e88a20")
mB_right = [
    alt.Chart(dmV).mark_line(color=ORANGE, strokeWidth=2).encode(
        x=xm, y=alt.Y("v:Q", scale=yV, axis=yamB_r)),
    frame(WL, HB),
]
mB = panel(mB_left, mB_right, WL, HB)

# --- mini clouds ---
yamC = yax([0, 2, 4, 6, 8], HC, flush=True)
yamC_r = yax([0, 0.25, 0.5, 0.75, 1], HC, orient="right", grid=False, color=ORANGE, fmt="~g", flush=True)
xmC = alt.X("t:Q", scale=XL, axis=AXL_C)
dmC = pd.DataFrame(dict(t=MT, low=mini_low, mid=mini_mid, high=mini_high))
dmF = pd.DataFrame(dict(t=mini_fog_t, f=mini_fog))
CK = 9.5
mC_left = bands(XL, LD, AXL_C, MINI_NIGHT_S, MINI_NIGHT_E, HC, -4, 30, "white", NIGHT) + \
    bands(XL, LD, AXL_C, MINI_NIGHT_S, MINI_NIGHT_E, HC, 0, 0, SKY, SKY_N) + [
    alt.Chart(dmC).mark_area(color="white").encode(x=xmC, y=alt.Y("high:Q", scale=yC, axis=yamC)),
    alt.Chart(dmC).mark_area(color="#a4a4a4").encode(x=xmC, y=alt.Y("mid:Q", scale=yC, axis=yamC)),
    alt.Chart(dmC).mark_area(color="#505050").encode(x=xmC, y=alt.Y("low:Q", scale=yC, axis=yamC)),
    vgrid(AXL_C, HC),
    txt("Chmury:", -123, 20),
    box(-119, 28.5, -80, 39.5, "#7cc0f0"),
    txt("wysokie", -117, 34, "white", size=CK),
    txt("średnie", -117, 45.5, "#a0a0a0", size=CK),
    txt("niskie", -117, 56.5, "#404040", size=CK),
    txt("Mgła", -123, 69, "#f0b000", size=CK),
    txt("Czas uniwersalny", -123, 89),
    txt("(UTC)", -123, 102),
] + poly([(-78, 34), (45, 34)], "#7cc0f0", 3) + poly([(-80, 45.5), (50, 45.5)], "#a0a0a0") + \
    poly([(-86, 56.5), (0, 56.5)], "#404040") + poly([(-98, 69), (78, 69)], "#e8a020") + \
    poly([(-37, 89), (16, 89), (21, 83)], "black")
mC_right = [
    alt.Chart(dmF).mark_rule(color=ORANGE, strokeWidth=3).encode(
        x=xmC, y=alt.Y("f:Q", scale=yF, axis=yamC_r), y2=alt.datum(0)),
    frame(WL, HC),
]
mC = panel(mC_left, mC_right, WL, HC)

left_col = alt.vconcat(mT, mR, mP, mW, mD, mB, mC, spacing=8, bounds="flush").resolve_scale(
    color="independent", stroke="independent")

chart = alt.hconcat(left_col, right_col, spacing=199, bounds="flush").resolve_scale(
    color="independent", stroke="independent").properties(
    padding=0
).configure(background=CREAM, font=FONT).configure_view(strokeWidth=0)

chart.save("out.html", embed_options={"renderer": "svg", "actions": False})
